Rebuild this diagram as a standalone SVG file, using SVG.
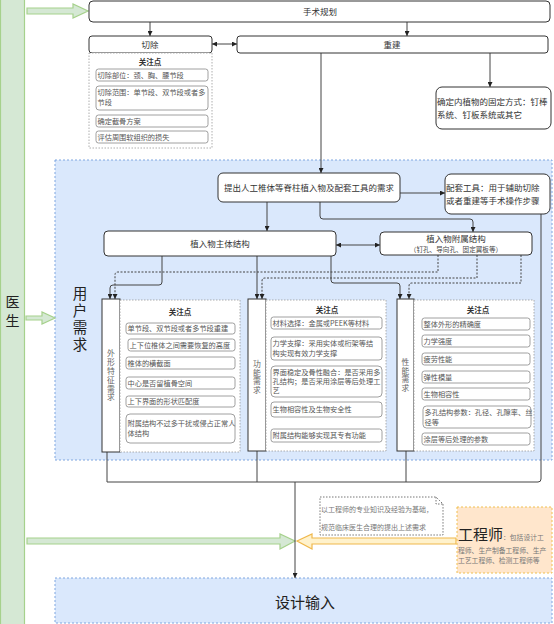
<svg xmlns="http://www.w3.org/2000/svg" width="554" height="624" viewBox="0 0 554 624">
<defs>
<marker id="ah" viewBox="0 0 10 10" refX="10" refY="5" markerWidth="5" markerHeight="5" markerUnits="userSpaceOnUse" orient="auto-start-reverse"><path d="M0,0 L10,5 L0,10 z" fill="#222"/></marker>
<style>
text{font-family:"Noto Sans CJK SC","Noto Sans",sans-serif}
.node{fill:#fff;stroke:#333;stroke-width:1}
.item{fill:#fff;stroke:#888;stroke-width:0.8}
.panel{fill:#fff;stroke:#999;stroke-width:0.8;stroke-dasharray:1.5 1.5}
.col{fill:#fff;stroke:#333;stroke-width:1}
.h{font-size:8.5px;fill:#333}
.it{font-size:7.2px;fill:#555}
.ttl{font-size:7.5px;font-weight:bold;fill:#333}
.ct{font-size:7.8px;fill:#666;writing-mode:vertical-rl;text-anchor:middle;letter-spacing:1px}
.vt{writing-mode:vertical-rl;text-anchor:middle;fill:#222}
.c{fill:none;stroke:#444;stroke-width:1}
.d{fill:none;stroke:#444;stroke-width:1;stroke-dasharray:2 1.5}
.region{fill:#dae8fc;stroke:#7ea6e0;stroke-width:1;stroke-dasharray:2 2}
.garrow{fill:#d5e8d4;stroke:#a6d18c;stroke-width:1.2}
</style>
</defs>
<rect width="554" height="624" fill="#fff"/>

<!-- regions -->
<g id="user-needs-region">
<rect class="region" x="55" y="160" width="497" height="300"/>
<text class="vt" x="80" y="320" font-size="14.5" letter-spacing="2.5">用户需求</text>
</g>
<g id="design-input">
<rect class="region" x="55" y="578" width="497" height="45"/>
<text x="305" y="608" font-size="15" text-anchor="middle" fill="#222">设计输入</text>
</g>

<g id="doctor">
<rect x="0.5" y="-1" width="24" height="626" fill="#d5e8d4" stroke="#a6d18c" stroke-width="1.2"/>
<text class="vt" x="12.5" y="314" font-size="14" letter-spacing="5">医生</text>
</g>

<g id="block-arrows">
<polygon class="garrow" points="27,8 73,8 73,4 88,11 73,18 73,14 27,14"/>
<polygon class="garrow" points="26,316 42,316 42,312 55,318 42,324 42,320 26,320"/>
<polygon class="garrow" points="27,538 280,538 280,534 295,541 280,549 280,544 27,544"/>
<polygon points="456,538 312,538 312,534 297,541 312,549 312,544 456,544" fill="#fff2cc" stroke="#f0b84c" stroke-width="1.2"/>
</g>

<!-- connectors -->
<g id="connectors">
<path class="c" d="M150 22 V36" marker-end="url(#ah)"/>
<path class="c" d="M407 22 V36" marker-end="url(#ah)"/>
<path class="c" d="M212 44 H237" marker-start="url(#ah)" marker-end="url(#ah)"/>
<path class="c" d="M321 53 V173" marker-end="url(#ah)"/>
<path class="c" d="M490 53 V87" marker-end="url(#ah)"/>
<path class="c" d="M400 193 H445" marker-end="url(#ah)"/>
<path class="c" d="M267 202 V231" marker-end="url(#ah)"/>
<path class="c" d="M320 202 V216 Q320 219 323 219 H470 Q473 219 473 222 V232" marker-end="url(#ah)"/>
<path class="c" d="M336 245 H380" marker-start="url(#ah)" marker-end="url(#ah)"/>
<path class="c" d="M162 256 V282 Q162 285 159 285 H113 Q110 285 110 288 V299" marker-end="url(#ah)"/>
<path class="c" d="M257 256 V299" marker-end="url(#ah)"/>
<path class="c" d="M331 256 V280 Q331 283 334 283 H397 Q400 283 400 286 V299" marker-end="url(#ah)"/>
<path class="d" d="M438 255 V272 H118 Q115 272 115 275 V299" marker-end="url(#ah)"/>
<path class="d" d="M477 255 V278 H265 Q262 278 262 281 V299" marker-end="url(#ah)"/>
<path class="d" d="M521 255 V283 H412 Q409 283 409 286 V299" marker-end="url(#ah)"/>
<path class="c" d="M107 452 V482 H538 Q541 482 541 479 V214"/>
<path class="c" d="M257 451 V482"/>
<path class="c" d="M406 451 V482"/>
<path class="c" d="M295 482 V578" marker-end="url(#ah)"/>
</g>

<g id="surgery-plan">
<rect class="node" x="89" y="1" width="461" height="21" rx="4"/>
<text class="h" x="320" y="14.5" text-anchor="middle">手术规划</text>
</g>

<g id="resection">
<rect class="node" x="89" y="36" width="123" height="17" rx="3"/>
<text class="h" x="150" y="47.5" text-anchor="middle">切除</text>
</g>

<g id="resection-points">
<rect class="panel" x="89" y="53" width="123" height="95"/>
<text class="ttl" x="150" y="64.5" text-anchor="middle">关注点</text>
<rect class="item" x="96" y="69" width="112" height="12" rx="2.5"/>
<text class="it" x="97.5" y="77.5">切除部位：颈、胸、腰节段</text>
<rect class="item" x="96" y="86" width="112" height="24" rx="3"/>
<text class="it" x="97.5" y="95">切除范围：单节段、双节段或者多</text>
<text class="it" x="97.5" y="104.5">节段</text>
<rect class="item" x="96" y="115" width="112" height="12" rx="2.5"/>
<text class="it" x="97.5" y="123.5">确定截骨方案</text>
<rect class="item" x="96" y="131" width="112" height="12" rx="2.5"/>
<text class="it" x="97.5" y="139.5">评估周围软组织的损失</text>
</g>

<g id="reconstruction">
<rect class="node" x="237" y="36" width="311" height="17" rx="3"/>
<text class="h" x="392" y="47.5" text-anchor="middle">重建</text>
</g>

<g id="fixation">
<rect class="node" x="436" y="87" width="115" height="42" rx="6"/>
<text class="h" x="437" y="105">确定内植物的固定方式：钉棒</text>
<text class="h" x="437" y="118">系统、钉板系统或其它</text>
</g>

<g id="propose">
<rect class="node" x="218" y="173" width="182" height="29" rx="5"/>
<text class="h" x="309" y="190.5" text-anchor="middle">提出人工椎体等脊柱植入物及配套工具的需求</text>
</g>

<g id="tools">
<rect class="node" x="445" y="174" width="105" height="40" rx="6"/>
<text class="h" x="446" y="191">配套工具：用于辅助切除</text>
<text class="h" x="446" y="204">或者重建等手术操作步骤</text>
</g>

<g id="main-structure">
<rect class="node" x="104" y="231" width="232" height="25" rx="4"/>
<text class="h" x="220" y="246.5" text-anchor="middle">植入物主体结构</text>
</g>

<g id="attached-structure">
<rect class="node" x="380" y="232" width="152" height="23" rx="4"/>
<text class="h" x="456" y="242" text-anchor="middle">植入物附属结构</text>
<text x="456" y="251.5" font-size="6.6" fill="#444" text-anchor="middle">（钉孔、导向孔、固定翼板等）</text>
</g>

<!-- 外形特征需求 -->
<g id="shape-needs">
<rect class="col" x="102" y="299" width="18" height="153"/>
<text class="ct" x="111" y="376">外形特征需求</text>
</g>
<g id="shape-points">
<rect class="panel" x="120" y="300" width="120" height="152"/>
<text class="ttl" x="180" y="314.5" text-anchor="middle">关注点</text>
<rect class="item" x="126" y="323" width="109" height="11" rx="2.5"/>
<text class="it" x="127.5" y="331">单节段、双节段或者多节段重建</text>
<rect class="item" x="128" y="339" width="107" height="12" rx="2.5"/>
<text class="it" x="129.5" y="347.5">上下位椎体之间需要恢复的高度</text>
<rect class="item" x="126" y="357" width="109" height="12" rx="2.5"/>
<text class="it" x="127.5" y="365.5">椎体的横截面</text>
<rect class="item" x="126" y="377" width="109" height="12" rx="2.5"/>
<text class="it" x="127.5" y="385.5">中心是否留植骨空间</text>
<rect class="item" x="126" y="396" width="109" height="11" rx="2.5"/>
<text class="it" x="127.5" y="404">上下界面的形状匹配度</text>
<rect class="item" x="126" y="414" width="109" height="29" rx="4"/>
<text class="it" x="127.5" y="426">附属结构不过多干扰或侵占正常人</text>
<text class="it" x="127.5" y="435.5">体结构</text>
</g>

<!-- 功能需求 -->
<g id="function-needs">
<rect class="col" x="248" y="299" width="18" height="152"/>
<text class="ct" x="257" y="377.5">功能需求</text>
</g>
<g id="function-points">
<rect class="panel" x="266" y="300" width="120" height="151"/>
<text class="ttl" x="327" y="312.5" text-anchor="middle">关注点</text>
<rect class="item" x="271" y="317" width="111" height="12" rx="2.5"/>
<text class="it" x="272.5" y="325.5">材料选择：金属或PEEK等材料</text>
<rect class="item" x="271" y="337" width="111" height="23" rx="3"/>
<text class="it" x="272.5" y="346">力学支撑：采用实体或桁架等结</text>
<text class="it" x="272.5" y="355.5">构实现有效力学支撑</text>
<rect class="item" x="271" y="366" width="111" height="31" rx="4"/>
<text class="it" x="272.5" y="375">界面稳定及骨性融合：是否采用多</text>
<text class="it" x="272.5" y="384.2">孔结构；是否采用涂层等后处理工</text>
<text class="it" x="272.5" y="393.4">艺</text>
<rect class="item" x="271" y="402" width="111" height="15" rx="3"/>
<text class="it" x="272.5" y="412">生物相容性及生物安全性</text>
<rect class="item" x="271" y="429" width="111" height="13" rx="2.5"/>
<text class="it" x="272.5" y="438">附属结构能够实现其专有功能</text>
</g>

<!-- 性能需求 -->
<g id="performance-needs">
<rect class="col" x="397" y="299" width="17" height="152"/>
<text class="ct" x="405.5" y="375.5">性能需求</text>
</g>
<g id="performance-points">
<rect class="panel" x="414" y="300" width="120" height="151"/>
<text class="ttl" x="478" y="312.5" text-anchor="middle">关注点</text>
<rect class="item" x="422" y="318" width="108" height="12" rx="2.5"/>
<text class="it" x="423.5" y="326.5">整体外形的精确度</text>
<rect class="item" x="422" y="335" width="108" height="12" rx="2.5"/>
<text class="it" x="423.5" y="343.5">力学强度</text>
<rect class="item" x="422" y="353" width="108" height="12" rx="2.5"/>
<text class="it" x="423.5" y="361.5">疲劳性能</text>
<rect class="item" x="422" y="371" width="108" height="12" rx="2.5"/>
<text class="it" x="423.5" y="379.5">弹性模量</text>
<rect class="item" x="422" y="388" width="108" height="12" rx="2.5"/>
<text class="it" x="423.5" y="396.5">生物相容性</text>
<rect class="item" x="423" y="406" width="108" height="22" rx="3.5"/>
<text class="it" x="424.5" y="415">多孔结构参数：孔径、孔隙率、丝</text>
<text class="it" x="424.5" y="424.5">径等</text>
<rect class="item" x="422" y="433" width="108" height="12" rx="2.5"/>
<text class="it" x="423.5" y="441.5">涂层等后处理的参数</text>
</g>

<g id="note">
<path d="M320 497 H436 L443 504 V535 H320 Z" fill="#fff" stroke="#666" stroke-width="0.9" stroke-dasharray="1.5 1.5"/>
<path d="M436 497 V504 H443" fill="none" stroke="#666" stroke-width="0.9" stroke-dasharray="1.5 1.5"/>
<text x="321" y="512" font-size="7" fill="#777">以工程师的专业知识及经验为基础，</text>
<text x="321" y="530" font-size="7" fill="#777">规范临床医生合理的提出上述需求</text>
</g>

<g id="engineer">
<rect x="457" y="507" width="95" height="66" fill="#ffe6cc" stroke="#f0c050" stroke-width="1" stroke-dasharray="2 2"/>
<text x="458" y="540" fill="#222"><tspan font-size="15">工程师</tspan><tspan font-size="6.8" fill="#777">：包括设计工</tspan></text>
<text x="458" y="553" font-size="6.8" fill="#777">程师、生产制备工程师、生产</text>
<text x="458" y="562.5" font-size="6.8" fill="#777">工艺工程师、检测工程师等</text>
</g>
</svg>
